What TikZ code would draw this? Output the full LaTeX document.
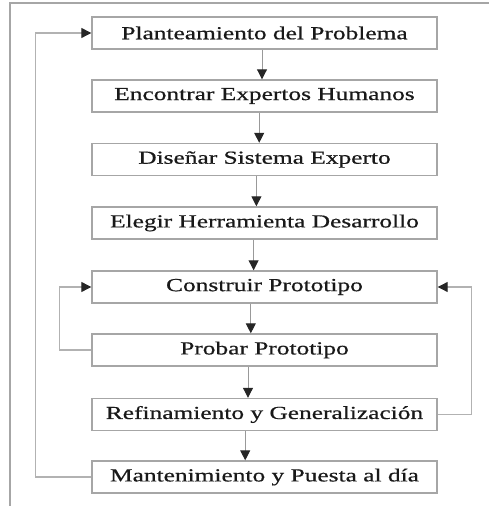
\documentclass[tikz,border=0pt]{standalone}
\usepackage{fontspec}
\setmainfont{Liberation Serif}[FakeStretch=1.38, FakeBold=0.6]
\usetikzlibrary{arrows.meta, calc}
\tikzset{
  stage/.style={draw=gray!70, line width=0.7pt, fill=white, minimum width=172.5pt,
      minimum height=16pt, inner sep=0pt, font=\fontsize{9.2}{11}\selectfont, text=black!90},
  flow/.style={draw=gray!80, line width=0.5pt, -{Triangle[length=5pt, width=5pt, black!85]}},
  back/.style={draw=gray!60, line width=0.6pt, -{Triangle[length=5pt, width=5pt, black!85]}},
}

\begin{document}
\begin{tikzpicture}[x=0.5pt, y=-0.5pt]
  \useasboundingbox (0,0) rectangle (489,506);
  % frame
  \draw[gray!70, line width=0.6pt] (10,506) -- (10,3) -- (489,3);
  % stages
  \node[stage] (plan) at (264.5,33) {Planteamiento del Problema};
  \node[stage] (expertos) at (264.5,96) {Encontrar Expertos Humanos};
  \node[stage] (disenar) at (264.5,159.5) {Diseñar Sistema Experto};
  \node[stage] (elegir) at (264.5,223) {Elegir Herramienta Desarrollo};
  \node[stage] (construir) at (264.5,287) {Construir Prototipo};
  \node[stage] (probar) at (264.5,350) {Probar Prototipo};
  \node[stage] (refinar) at (264.5,414.5) {Refinamiento y Generalización};
  \node[stage] (mant) at (264.5,477) {Mantenimiento y Puesta al día};
  % downward arrows
  \foreach \a/\b [count=\i] in {plan/expertos, expertos/disenar, disenar/elegir,
      elegir/construir, construir/probar, probar/refinar, refinar/mant}
    \draw[flow] ([xshift={-1.25pt-1.4pt*(\i-1)}]\a.south) -- ([xshift={-1.25pt-1.4pt*(\i-1)}]\b.north);
  % feedback loops
  \draw[back] (probar.west) -- ++(-32,0) |- (construir.west);
  \draw[back] (refinar.east) -- ++(34,0) |- (construir.east);
  \draw[back] (mant.west) -- ++(-56,0) |- (plan.west);
\end{tikzpicture}
\end{document}
